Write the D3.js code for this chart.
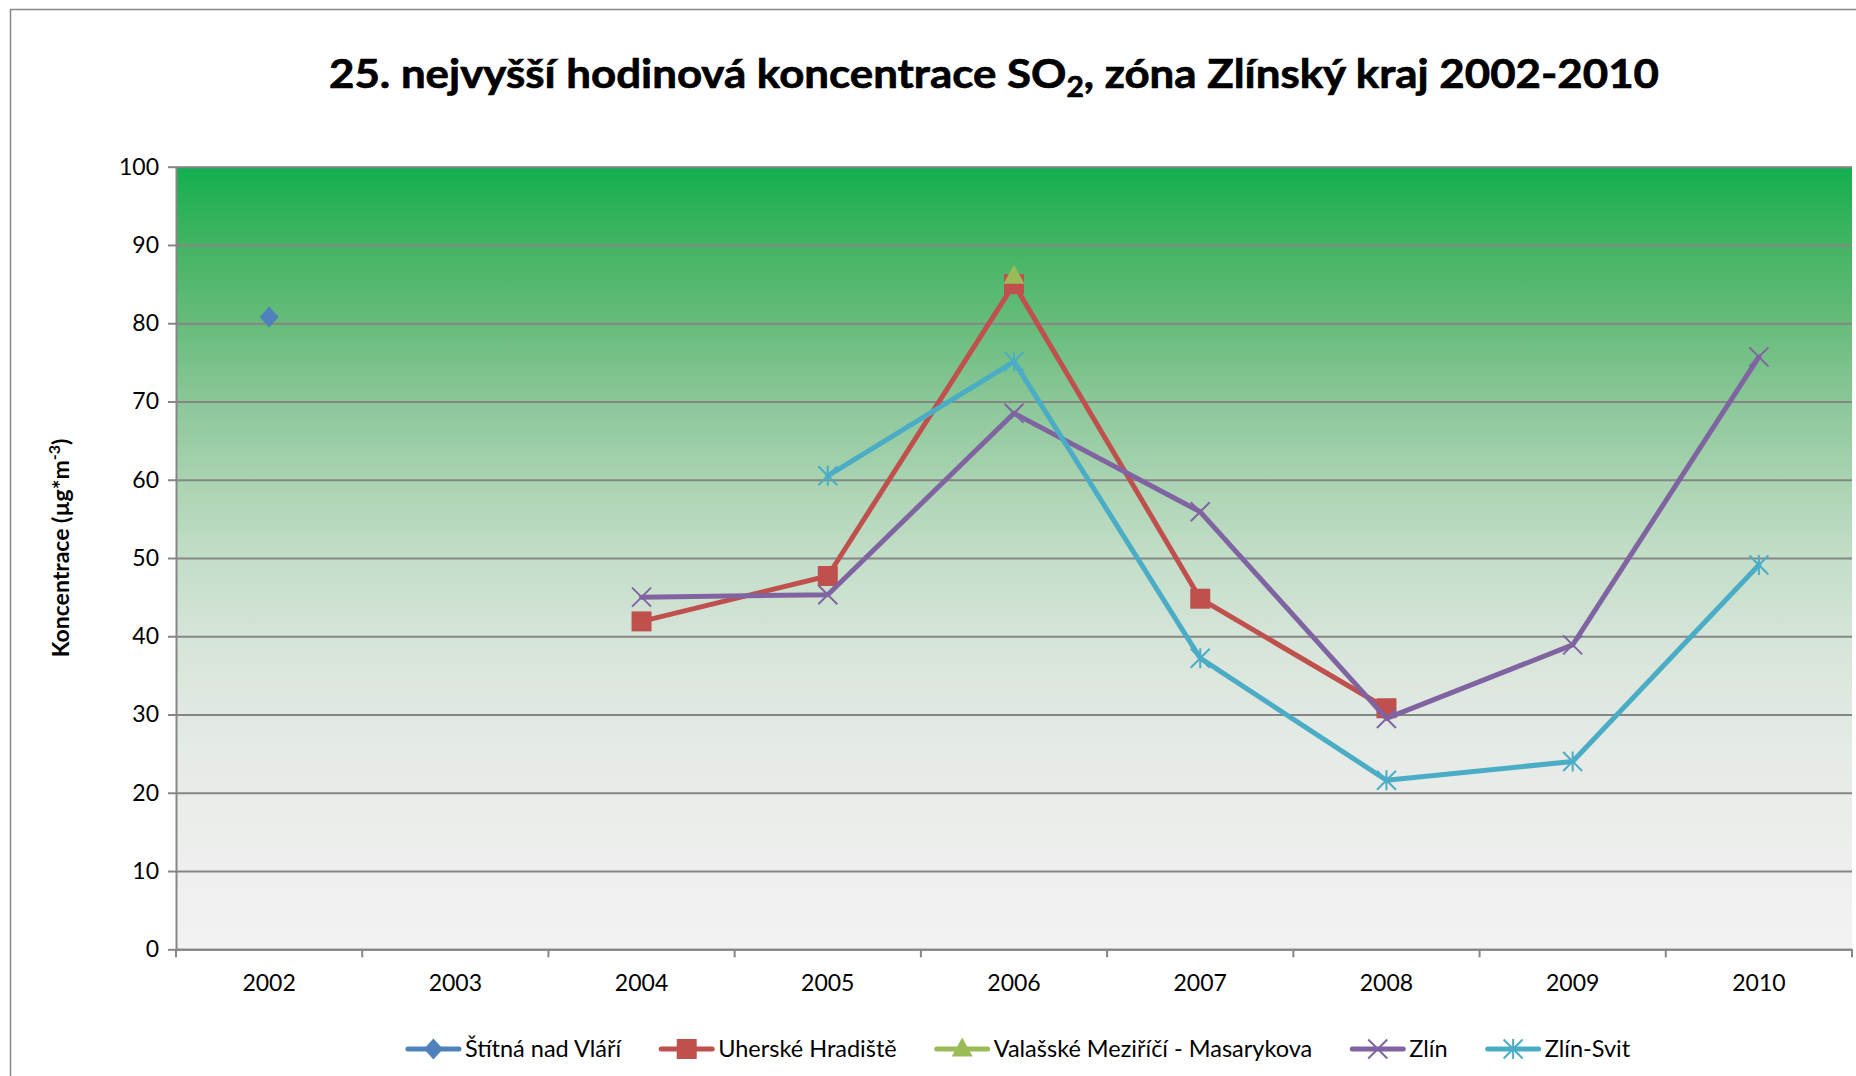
<!DOCTYPE html>
<html>
<head>
<meta charset="utf-8">
<script src="https://cdn.jsdelivr.net/npm/d3@7/dist/d3.min.js"></script>
<style>
body { margin: 0; background: #fff; }
text { font-family: Lato, "Open Sans", sans-serif; fill: #000; }
</style>
</head>
<body>
<script>
// data
var years = ["2002", "2003", "2004", "2005", "2006", "2007", "2008", "2009", "2010"];
var yTicks = [0, 10, 20, 30, 40, 50, 60, 70, 80, 90, 100];

var stitna   = [80.8, null, null, null, null, null, null, null, null];
var uherske  = [null, null, 41.9, 47.7, 85.0, 44.8, 30.8, null, null];
var valasske = [null, null, null, null, 86.0, null, null, null, null];
var zlin     = [null, null, 45.0, 45.3, 68.5, 55.9, 29.5, 38.9, 75.7];
var zlinSvit = [null, null, null, 60.5, 75.1, 37.2, 21.6, 24.0, 49.1];

var seriesNames = ["Štítná nad Vláří", "Uherské Hradiště", "Valašské Meziříčí - Masarykova", "Zlín", "Zlín-Svit"];
var seriesValues = [stitna, uherske, valasske, zlin, zlinSvit];
var seriesColors = ["#4f81bd", "#c0504d", "#9bbb59", "#8064a2", "#4bacc6"];
var seriesMarkers = ["diamond", "square", "triangle", "x", "star"];

var W = 1856, H = 1076;
var MARGINS = {left: 176, right: 4, top: 166.7, bottom: 126.7};
var width = W - MARGINS.left - MARGINS.right;
var height = H - MARGINS.top - MARGINS.bottom;

var svg = d3.select("body").append("svg")
    .attr("width", W)
    .attr("height", H);

// outer chart border
svg.append("rect")
    .attr("x", 10.5).attr("y", 9.5)
    .attr("width", 1900).attr("height", 1100)
    .attr("fill", "none").attr("stroke", "#868686").attr("stroke-width", 1.5);

// title
var title = svg.append("text")
    .attr("x", 994).attr("y", 88)
    .attr("text-anchor", "middle")
    .style("font-size", "41px").style("font-weight", "bold")
    .style("stroke", "#000").style("stroke-width", 0.7)
    .attr("textLength", 1330).attr("lengthAdjust", "spacingAndGlyphs");
title.append("tspan").text("25. nejvyšší hodinová koncentrace SO");
title.append("tspan").attr("dy", 9).style("font-size", "28px").text("2");
title.append("tspan").attr("dy", -9).text(", zóna Zlínský kraj 2002-2010");

// gradient background of the plot area
var defs = svg.append("defs");
var grad = defs.append("linearGradient").attr("id", "bg")
    .attr("x1", 0).attr("y1", 0).attr("x2", 0).attr("y2", 1);
[[0, "#12af4f"], [0.1, "#43b463"], [0.2, "#66bc7b"], [0.3, "#8bc798"], [0.4, "#a9d3b1"],
 [0.5, "#c3dec8"], [0.6, "#d5e4d8"], [0.7, "#e1e9e2"], [0.8, "#e9ece9"], [0.9, "#eeefee"], [1, "#f2f2f2"]]
    .forEach(function (s) {
        grad.append("stop").attr("offset", s[0]).attr("stop-color", s[1]);
    });

var g = svg.append("g")
    .attr("transform", "translate(" + MARGINS.left + "," + MARGINS.top + ")");

var xScale = d3.scaleBand().domain(years).range([0, width]);
var yScale = d3.scaleLinear().domain([0, 100]).range([height, 0]);

g.append("rect")
    .attr("x", 1).attr("y", 0)
    .attr("width", width - 1).attr("height", height)
    .attr("fill", "url(#bg)");

// grid lines
g.append("g")
    .call(d3.axisLeft(yScale).tickValues(yTicks).tickSize(-width).tickFormat(""))
    .call(function (a) {
        a.select(".domain").remove();
        a.selectAll("line").attr("stroke", "#868686").attr("stroke-width", 2);
    });

// y axis
g.append("g")
    .call(d3.axisLeft(yScale).tickValues(yTicks).tickSize(8).tickPadding(9).tickSizeOuter(0))
    .call(function (a) {
        a.select(".domain").attr("stroke", "#868686").attr("stroke-width", 2);
        a.selectAll("line").attr("stroke", "#868686").attr("stroke-width", 2);
        a.selectAll("text").style("font-size", "23px").attr("fill", "#000");
    });

// x axis
var xAxis = g.append("g")
    .attr("transform", "translate(0," + height + ")")
    .call(d3.axisBottom(xScale).tickSize(0).tickPadding(25))
    .call(function (a) {
        a.select(".domain").attr("stroke", "#868686").attr("stroke-width", 2);
        a.selectAll("text").style("font-size", "23px").attr("fill", "#000");
    });
// tick marks between categories
var bounds = years.map(function (y) { return xScale(y); }).concat([width]);
xAxis.selectAll(".bound").data(bounds).enter().append("line")
    .attr("x1", function (d) { return d; }).attr("x2", function (d) { return d; })
    .attr("y1", 0).attr("y2", 8)
    .attr("stroke", "#868686").attr("stroke-width", 2);

// y axis title
var yt = svg.append("text")
    .attr("transform", "translate(69,548) rotate(-90)")
    .attr("text-anchor", "middle")
    .style("font-size", "23px").style("font-weight", "bold");
yt.append("tspan").text("Koncentrace (µg*m");
yt.append("tspan").attr("dy", -9).style("font-size", "16px").text("-3");
yt.append("tspan").attr("dy", 9).text(")");

// markers
function drawMarker(sel, type, color) {
    var s = 10;
    if (type === "diamond") {
        sel.append("path").attr("d", "M0,-10.5L9.5,0L0,10.5L-9.5,0Z").attr("fill", color);
    } else if (type === "square") {
        sel.append("rect").attr("x", -s).attr("y", -s).attr("width", 2 * s).attr("height", 2 * s)
            .attr("fill", color);
    } else if (type === "triangle") {
        sel.append("path").attr("d", "M0,-11.5L10.5,7.5L-10.5,7.5Z").attr("fill", color);
    } else if (type === "x") {
        sel.append("path").attr("d", "M-9.5,-9.5L9.5,9.5M-9.5,9.5L9.5,-9.5")
            .attr("stroke", color).attr("stroke-width", 2).attr("fill", "none");
    } else if (type === "star") {
        sel.append("path").attr("d", "M-9.5,-9.5L9.5,9.5M-9.5,9.5L9.5,-9.5M0,-10L0,10")
            .attr("stroke", color).attr("stroke-width", 2).attr("fill", "none");
    }
}

var line = d3.line()
    .defined(function (d) { return d != null; })
    .x(function (d, i) { return xScale(years[i]) + xScale.bandwidth() / 2; })
    .y(function (d) { return yScale(d); });

seriesValues.forEach(function (vals, k) {
    var sg = g.append("g");
    sg.append("path").datum(vals)
        .attr("d", line)
        .attr("fill", "none")
        .attr("stroke", seriesColors[k])
        .attr("stroke-width", 5)
        .attr("stroke-linejoin", "round")
        .attr("stroke-linecap", "round");
    vals.forEach(function (v, i) {
        if (v == null) return;
        var m = sg.append("g")
            .attr("transform", "translate(" + (xScale(years[i]) + xScale.bandwidth() / 2) + "," + yScale(v) + ")");
        drawMarker(m, seriesMarkers[k], seriesColors[k]);
    });
});

// legend
var legend = svg.append("g");
var lx = 0;
seriesNames.forEach(function (name, k) {
    var it = legend.append("g").attr("transform", "translate(" + lx + ",0)");
    it.append("line").attr("x1", 2).attr("x2", 53).attr("y1", 0).attr("y2", 0)
        .attr("stroke", seriesColors[k]).attr("stroke-width", 5).attr("stroke-linecap", "round");
    drawMarker(it.append("g").attr("transform", "translate(27.5,0)"), seriesMarkers[k], seriesColors[k]);
    var t = it.append("text").attr("x", 59).attr("y", 8).style("font-size", "23.5px").text(name);
    lx += 59 + t.node().getComputedTextLength() + 38;
});
lx -= 38;
legend.attr("transform", "translate(" + (1018 - lx / 2) + ",1049)");
</script>
</body>
</html>
